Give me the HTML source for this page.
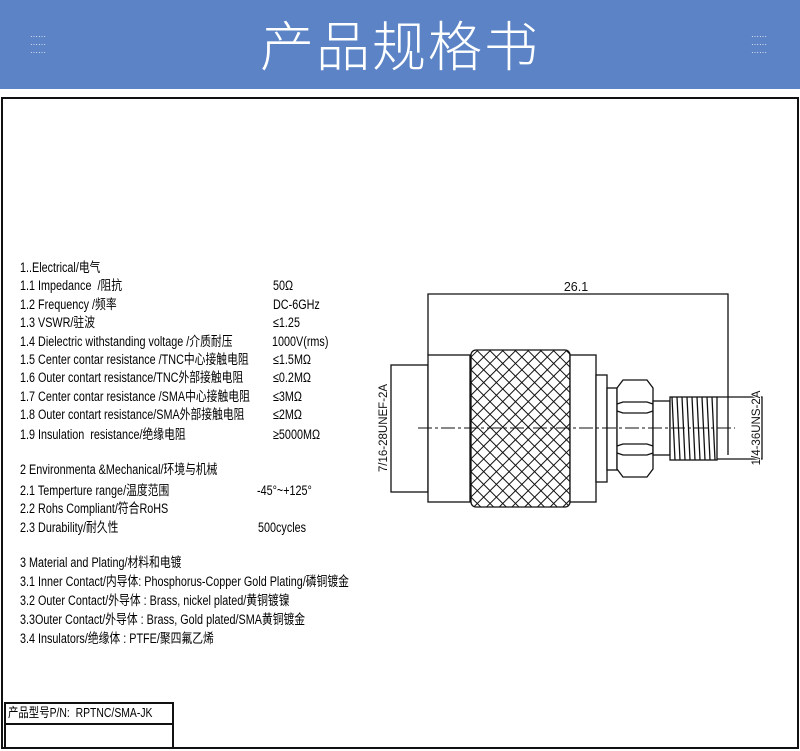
<!DOCTYPE html>
<html><head><meta charset="utf-8"><style>
body{margin:0;width:800px;height:751px;background:#fff;position:relative;overflow:hidden;font-family:"Liberation Sans","Noto Sans CJK SC",sans-serif;}
.hdr{position:absolute;left:0;top:0;width:800px;height:89px;background:#5b83c6;}
.title{position:absolute;left:0;width:800px;top:8px;text-align:center;color:#fff;font-size:54px;font-family:"Noto Sans CJK SC",sans-serif;font-weight:300;letter-spacing:2px;line-height:70px;}
.dots{position:absolute;color:#fff;font-size:8px;line-height:8px;letter-spacing:0px;}
.box{position:absolute;left:1px;top:97px;width:794px;height:648px;border:2px solid #111;}
.t{position:absolute;font-size:13.5px;color:#000;white-space:nowrap;transform-origin:0 50%;transform:scaleX(0.8);line-height:14px;}
.pn{position:absolute;left:4px;top:702px;width:166px;height:43px;border:2px solid #111;border-bottom:none;}
.pn div{height:19px;border-bottom:2px solid #111;font-size:12px;line-height:19px;padding-left:2px;transform:none;}
</style></head><body>
<div class="hdr"></div>
<div class="title">产品规格书</div>
<div class="dots" style="left:30px;top:33px">······<br>······<br>······</div>
<div class="dots" style="left:751px;top:33px">······<br>······<br>······</div>
<div class="box"></div>

<div class="t" style="left:20px;top:261px">1..Electrical/电气</div>
<div class="t" style="left:20px;top:279px">1.1 Impedance&nbsp; /阻抗</div>
<div class="t" style="left:20px;top:298px">1.2 Frequency /频率</div>
<div class="t" style="left:20px;top:316px">1.3 VSWR/驻波</div>
<div class="t" style="left:20px;top:335px">1.4 Dielectric withstanding voltage /介质耐压</div>
<div class="t" style="left:20px;top:353px">1.5 Center contar resistance /TNC中心接触电阻</div>
<div class="t" style="left:20px;top:371px">1.6 Outer contart resistance/TNC外部接触电阻</div>
<div class="t" style="left:20px;top:390px">1.7 Center contar resistance /SMA中心接触电阻</div>
<div class="t" style="left:20px;top:408px">1.8 Outer contart resistance/SMA外部接触电阻</div>
<div class="t" style="left:20px;top:428px">1.9 Insulation&nbsp; resistance/绝缘电阻</div>

<div class="t" style="left:273px;top:279px">50Ω</div>
<div class="t" style="left:273px;top:298px">DC-6GHz</div>
<div class="t" style="left:273px;top:316px">≤1.25</div>
<div class="t" style="left:272px;top:335px">1000V(rms)</div>
<div class="t" style="left:273px;top:353px">≤1.5MΩ</div>
<div class="t" style="left:273px;top:371px">≤0.2MΩ</div>
<div class="t" style="left:273px;top:390px">≤3MΩ</div>
<div class="t" style="left:273px;top:408px">≤2MΩ</div>
<div class="t" style="left:273px;top:428px">≥5000MΩ</div>

<div class="t" style="left:20px;top:463px">2 Environmenta &amp;Mechanical/环境与机械</div>
<div class="t" style="left:20px;top:484px">2.1 Temperture range/温度范围</div>
<div class="t" style="left:257px;top:484px">-45°~+125°</div>
<div class="t" style="left:20px;top:502px">2.2 Rohs Compliant/符合RoHS</div>
<div class="t" style="left:20px;top:521px">2.3 Durability/耐久性</div>
<div class="t" style="left:258px;top:521px">500cycles</div>

<div class="t" style="left:20px;top:556px">3 Material and Plating/材料和电镀</div>
<div class="t" style="left:20px;top:575px">3.1 Inner Contact/内导体: Phosphorus-Copper Gold Plating/磷铜镀金</div>
<div class="t" style="left:20px;top:594px">3.2 Outer Contact/外导体 : Brass, nickel plated/黄铜镀镍</div>
<div class="t" style="left:20px;top:613px">3.3Outer Contact/外导体 : Brass, Gold plated/SMA黄铜镀金</div>
<div class="t" style="left:20px;top:632px">3.4 Insulators/绝缘体 : PTFE/聚四氟乙烯</div>

<div class="pn"><div><span class="t" style="position:static;display:inline-block;font-size:13px">产品型号P/N:&nbsp; RPTNC/SMA-JK</span></div></div>

<svg style="position:absolute;left:0;top:0" width="800" height="751" viewBox="0 0 800 751">
<defs>
<pattern id="kn" width="9" height="9" patternUnits="userSpaceOnUse" patternTransform="rotate(45)">
<path d="M0 0H9M0 0V9" stroke="#111" stroke-width="2" fill="none"/>
</pattern>
</defs>
<g stroke="#111" stroke-width="1.3" fill="none">
<path d="M428 355V294H728V455"/>
<rect x="391" y="365" width="37" height="127" fill="#fff"/>
<rect x="428" y="355" width="42" height="147" fill="#fff"/>
<rect x="471" y="350" width="99" height="157" rx="5" fill="url(#kn)"/>
<rect x="570" y="355" width="26" height="147" fill="#fff"/>
<rect x="596" y="375" width="11" height="107" fill="#fff"/>
<rect x="607" y="388" width="10" height="82" fill="#fff"/>
<path d="M617 388L623 380H647L653 388V469L647 477H623L617 469Z" fill="#fff"/>
<path d="M617 404L623 402H647L653 404M617 411L623 413H647L653 411M617 446L623 444H647L653 446M617 453L623 455H647L653 453"/>
<rect x="653" y="401" width="17" height="54" fill="#fff"/>
<rect x="670" y="397" width="47" height="63" fill="#fff"/>
<path d="M672 397l3 63M677 397l3 63M682 397l3 63M687 397l3 63M692 397l3 63M697 397l3 63M702 397l3 63M707 397l3 63M712 397l3 63"/>
<path d="M717 397H762V459H717"/>
<path d="M418 428H735" stroke-dasharray="14 3 3 3" stroke-width="1"/>
</g>
<text x="576" y="291" font-family="Liberation Sans,sans-serif" font-size="12.5" text-anchor="middle" fill="#111">26.1</text>
<text transform="translate(387 428) rotate(-90)" font-family="Liberation Sans,sans-serif" font-size="11.5" text-anchor="middle" fill="#111">7/16-28UNEF-2A</text>
<text transform="translate(760 428) rotate(-90)" font-family="Liberation Sans,sans-serif" font-size="11.5" text-anchor="middle" fill="#111" style="paint-order:stroke" stroke="#fff" stroke-width="2">1/4-36UNS-2A</text>
</svg>
</body></html>
